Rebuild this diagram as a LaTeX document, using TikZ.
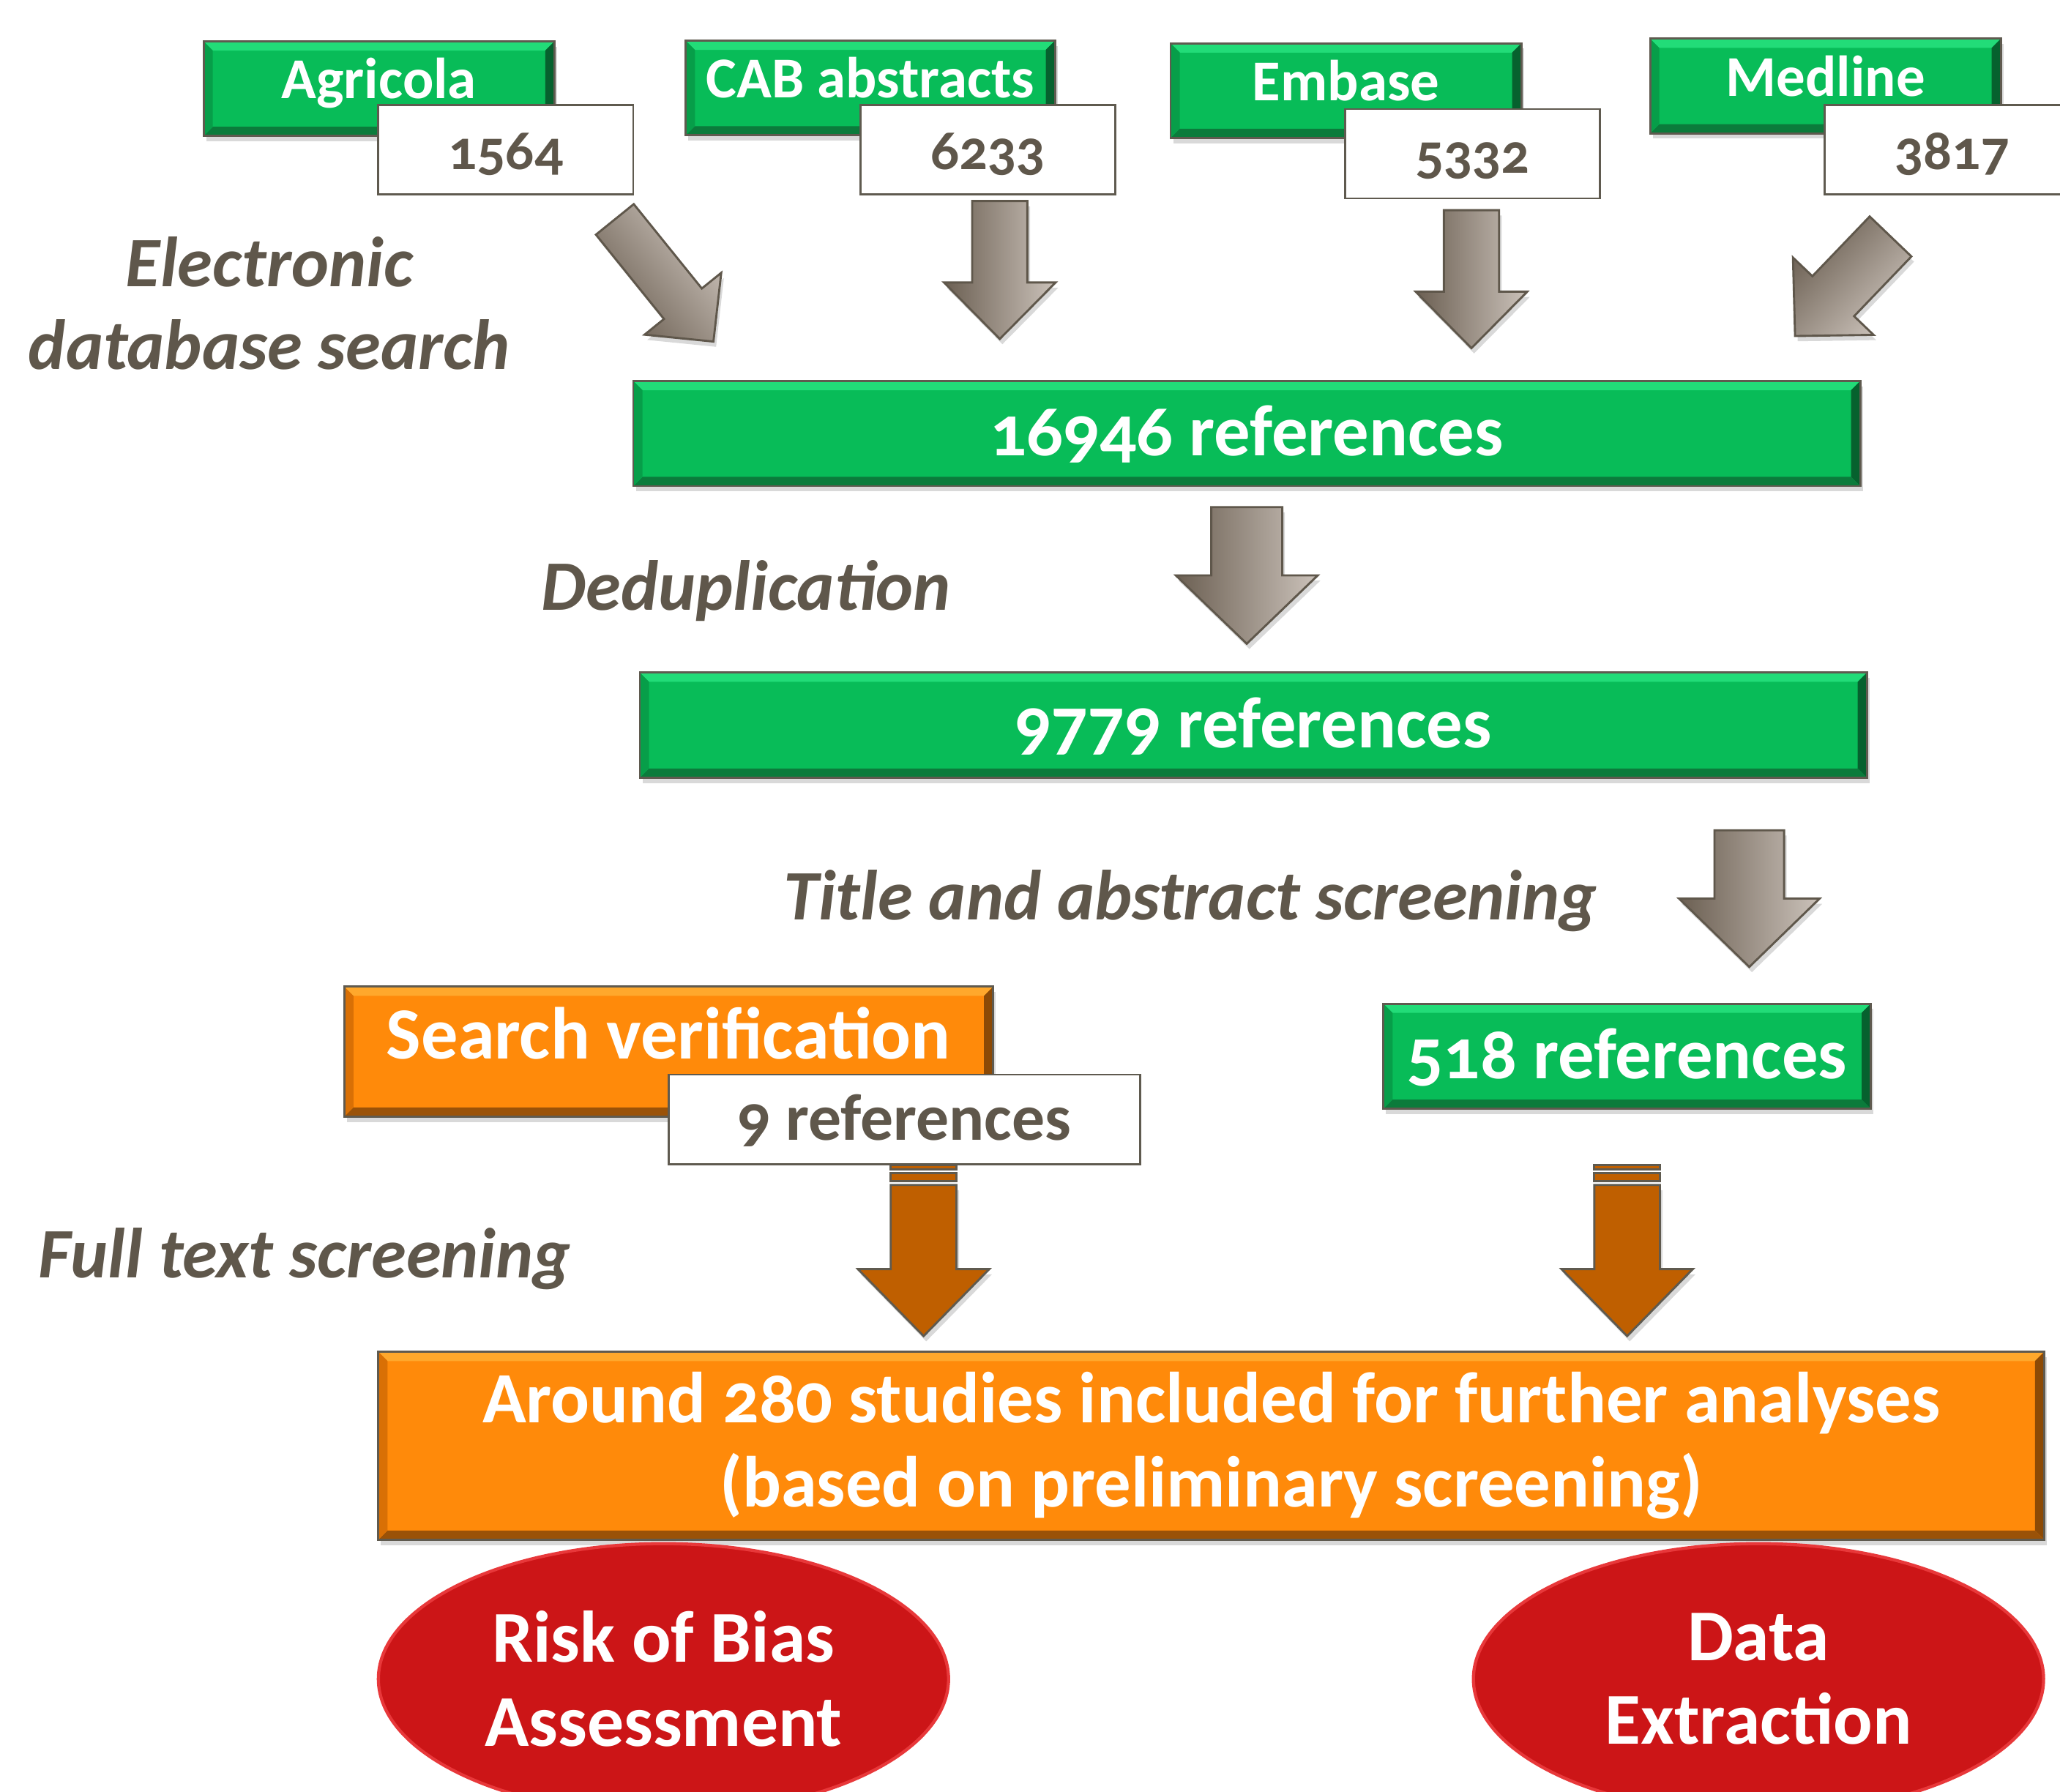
\documentclass[tikz,border=0pt]{standalone}
\usepackage{fontspec}
\setmainfont{Carlito}[Numbers=OldStyle]
\usetikzlibrary{shapes.geometric,shadows}

\definecolor{boxgreen}{HTML}{08BC58}
\definecolor{greentop}{HTML}{22DC78}
\definecolor{greenleft}{HTML}{079E49}
\definecolor{greenbot}{HTML}{0B7B3B}
\definecolor{greenright}{HTML}{06612E}
\definecolor{orfill}{HTML}{FF8A0A}
\definecolor{ortop}{HTML}{FFA82C}
\definecolor{orleft}{HTML}{D97005}
\definecolor{orbot}{HTML}{9A5208}
\definecolor{orright}{HTML}{8C4A06}
\definecolor{orarrowfill}{HTML}{BF5F00}
\definecolor{rimgrey}{HTML}{5F5A4F}
\definecolor{txtgrey}{HTML}{5F574B}
\definecolor{arrdark}{HTML}{6B5F52}
\definecolor{arrlight}{HTML}{CBC2BA}
\definecolor{ovalred}{HTML}{CC1517}
\definecolor{ovalrim}{HTML}{E8383A}

% block arrow: tail centre, angle, length, shaft width, head width, head length, style
\newcommand{\blockarrow}[7]{%
  \path[#7, shift={(#1)}, rotate=#2, shading angle=#2]
    (0,-#4/2) -- (#3-#6,-#4/2) -- (#3-#6,-#5/2) -- (#3,0)
    -- (#3-#6,#5/2) -- (#3-#6,#4/2) -- (0,#4/2) -- cycle;}

\tikzset{
  bevel/.style n args={4}{path picture={
    \coordinate (bnw) at (path picture bounding box.north west);
    \coordinate (bne) at (path picture bounding box.north east);
    \coordinate (bse) at (path picture bounding box.south east);
    \coordinate (bsw) at (path picture bounding box.south west);
    \fill[#1] (bnw) -- (bne) -- ([xshift=-3.5pt,yshift=-3.5pt]bne) -- ([xshift=3.5pt,yshift=-3.5pt]bnw) -- cycle;
    \fill[#2] (bne) -- (bse) -- ([xshift=-3.5pt,yshift=3.5pt]bse) -- ([xshift=-3.5pt,yshift=-3.5pt]bne) -- cycle;
    \fill[#3] (bse) -- (bsw) -- ([xshift=3.5pt,yshift=3.5pt]bsw) -- ([xshift=-3.5pt,yshift=3.5pt]bse) -- cycle;
    \fill[#4] (bsw) -- (bnw) -- ([xshift=3.5pt,yshift=-3.5pt]bnw) -- ([xshift=3.5pt,yshift=3.5pt]bsw) -- cycle;
  }},
  softshadow/.style={drop shadow={shadow xshift=1pt, shadow yshift=-2pt, opacity=0.3}},
  dbbox/.style={draw=rimgrey, fill=boxgreen, line width=0.8pt, minimum height=36pt,
    text=white, font=\fontsize{22}{26}\selectfont\bfseries, text height=15pt, text depth=7.5pt,
    bevel={greentop}{greenright}{greenbot}{greenleft}, softshadow},
  numbox/.style={draw=rimgrey, fill=white, line width=0.8pt, minimum width=97pt, minimum height=34pt,
    text=txtgrey, font=\fontsize{21.5}{25}\selectfont\bfseries, text height=15pt, text depth=0pt},
  refbox/.style={dbbox, minimum height=40pt, font=\fontsize{27.5}{32}\selectfont\bfseries,
    text height=17pt, text depth=0pt},
  orbox/.style={draw=rimgrey, fill=orfill, line width=0.8pt, text=white,
    font=\fontsize{27.5}{32}\selectfont\bfseries, bevel={ortop}{orright}{orbot}{orleft}, softshadow},
  steplabel/.style={text=txtgrey, font=\fontsize{27}{31.5}\selectfont\bfseries\itshape, align=center},
  oval/.style={ellipse, fill=ovalred, draw=ovalrim, line width=1.2pt, text=white, inner sep=0pt,
    font=\fontsize{27.8}{32}\selectfont\bfseries, align=center, minimum width=217pt, minimum height=103pt},
  greyarrow/.style={draw=txtgrey, line width=0.8pt, top color=arrlight, bottom color=arrdark, softshadow},
  orarrow/.style={draw=rimgrey, fill=orarrowfill, line width=0.8pt},
}

\begin{document}
\begin{tikzpicture}[x=0.5pt, y=-0.5pt]
\useasboundingbox (0,0) rectangle (1568,1364);

% Databases and their hits
\foreach \id/\name/\x/\y/\w/\num/\nx/\ny in {agri/Agricola/288.5/67.5/133.5/1564/385/114,
    cab/CAB abstracts/662.5/67/140.5/6233/752/114, emb/Embase/1024.5/69/133.5/5332/1121/117,
    med/Medline/1389.5/65.5/133.5/3817/1486/114} {
  \node[dbbox, minimum width=\w pt] (\id) at (\x,\y) {\name};
  \node[numbox] (\id-n) at (\nx,\ny) {\num};
}

% Arrows into the pooled set
\blockarrow{468,167}{-51.1}{119.5}{37}{75}{37}{greyarrow}
\blockarrow{761,153}{-90}{105}{42}{85}{43}{greyarrow}
\blockarrow{1120,160}{-90}{105}{42}{85}{43}{greyarrow}
\blockarrow{1439,180}{-133.8}{105}{44}{85}{42}{greyarrow}

\node[steplabel] (search) at (205,231) {Electronic\\database search};

% Pooled and deduplicated
\node[refbox, minimum width=467pt] (pooled) at (949,330) {16946 references};
\node[steplabel] (dedup) at (568,450) {Deduplication};
\blockarrow{949,386}{-90}{104}{54}{108}{52}{greyarrow}
\node[refbox, minimum width=467pt] (unique) at (954,552) {9779 references};

% Screening
\node[steplabel] (tiab) at (906,686) {Title and abstract screening};
\blockarrow{1331.5,632}{-90}{104}{53}{107}{52}{greyarrow}
\node[refbox, minimum width=185.5pt] (kept) at (1238.5,804) {518 references};

\node[orbox, minimum width=247pt, minimum height=49.5pt, font=\fontsize{28}{32}\selectfont\bfseries,
  text height=20pt, text depth=14.5pt] (verif) at (509,800.5) {Search verification};
\node[numbox, minimum width=179.5pt, font=\fontsize{25}{30}\selectfont\bfseries, text height=16pt, text depth=0.3pt]
  (verif-n) at (688.5,852) {9 references};

\node[steplabel] (fulltext) at (232,958) {Full text screening};

% Striped arrows to the included set
\foreach \ax in {703,1238.5} {
  \draw[orarrow] (\ax-25,887) rectangle (\ax+25,890);
  \draw[orarrow] (\ax-25,893) rectangle (\ax+25,899);
  \draw[orarrow, softshadow] (\ax-25,902) -- (\ax-25,966) -- (\ax-50,966) -- (\ax,1017)
    -- (\ax+50,966) -- (\ax+25,966) -- (\ax+25,902) -- cycle;
}

\node[orbox, minimum width=634pt, minimum height=71.5pt, align=center] (included) at (922,1100.5)
  {Around 280 studies included for further analyses\\(based on preliminary screening)};

% Next steps
\node[oval] (rob) at (505,1278) {Risk of Bias\\Assessment};
\node[oval] (extract) at (1338.5,1278) {Data\\Extraction};

\end{tikzpicture}
\end{document}
